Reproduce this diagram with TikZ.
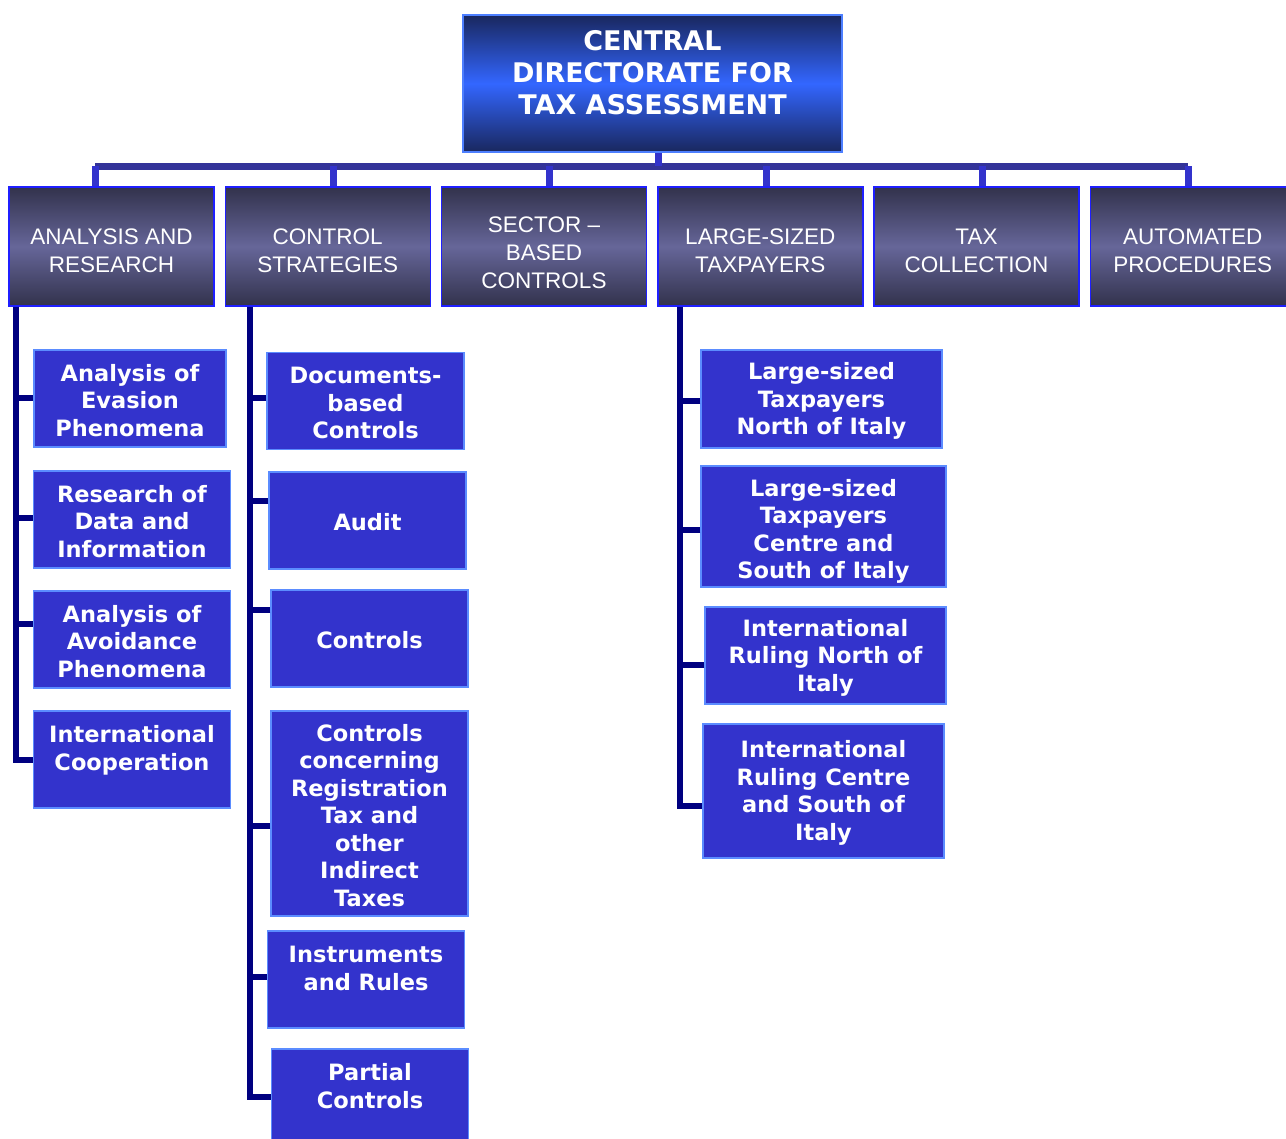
\documentclass[tikz,border=0pt]{standalone}
\usepackage{fontspec}
\setmainfont{DejaVu Sans}
\newfontfamily\deptfont{Liberation Sans}
\usetikzlibrary{calc}
\definecolor{cdta-dark}{HTML}{19275E}
\definecolor{cdta-light}{HTML}{3366FF}
\definecolor{cdta-rim}{HTML}{4D7FFF}
\definecolor{dept-dark}{HTML}{32324C}
\definecolor{dept-light}{HTML}{666699}
\definecolor{dept-rim}{HTML}{1F1FFF}
\definecolor{unit-fill}{HTML}{3333CC}
\definecolor{unit-rim}{HTML}{5B8CFF}
\definecolor{bar-blue}{HTML}{333399}
\definecolor{stub-blue}{HTML}{3333CC}
\definecolor{tree-navy}{HTML}{000080}
% pushes the first line of a box down a little
\newcommand{\lift}[1][21pt]{\rule{0pt}{#1}}

\begin{document}
\begin{tikzpicture}[x=1pt,y=-1pt,
  cdta/.style={draw=cdta-rim,line width=2pt,top color=cdta-dark,bottom color=cdta-dark,middle color=cdta-light,
    minimum width=379pt,minimum height=137pt,inner sep=0pt,text=white,align=center,
    font=\fontsize{27}{32}\selectfont\bfseries},
  dept/.style={draw=dept-rim,line width=1.5pt,top color=dept-dark,bottom color=dept-dark,middle color=dept-light,
    minimum width=205pt,minimum height=119pt,inner sep=0pt,text=white,align=center,
    font=\deptfont\fontsize{22.5}{28}\selectfont},
  unit/.style={draw=unit-rim,line width=1.5pt,fill=unit-fill,minimum width=197pt,minimum height=97pt,
    inner sep=0pt,text=white,align=center,font=\fontsize{22.5}{27.5}\selectfont\bfseries},
  barline/.style={draw=bar-blue,line width=7pt},
  stub/.style={draw=stub-blue,line width=7pt},
  tree/.style={draw=tree-navy,line width=6pt}]
\useasboundingbox (0,0) rectangle (1286,1139);
\clip (0,0) rectangle (1286,1139);

% top
\node[cdta] (cdta) at (652.5,83.5) {CENTRAL\\DIRECTORATE FOR\\TAX ASSESSMENT\\[-9pt]\mbox{}};

% departments
\node[dept] (hdAR) at (111.5,246.5) {\lift[24pt]ANALYSIS AND\\RESEARCH};
\node[dept] (hdCS) at (327.75,246.5) {\lift[24pt]CONTROL\\STRATEGIES};
\node[dept] (hdSB) at (544,246.5) {\lift[29pt]SECTOR –\\BASED\\CONTROLS};
\node[dept] (hdLT) at (760.25,246.5) {\lift[24pt]LARGE-SIZED\\TAXPAYERS};
\node[dept] (hdTC) at (976.5,246.5) {\lift[24pt]TAX\\COLLECTION};
\node[dept] (hdAP) at (1192.75,246.5) {\lift[24pt]AUTOMATED\\PROCEDURES};

% analysis and research
\node[unit,minimum width=192pt] (ar1) at (130,398.5) {\lift Analysis of\\Evasion\\Phenomena};
\node[unit] (ar2) at (132,519.5) {\lift Research of\\Data and\\Information};
\node[unit] (ar3) at (132,639.5) {\lift Analysis of\\Avoidance\\Phenomena};
\node[unit] (ar4) at (132,759.5) {\lift International\\Cooperation\\\mbox{}};

% control strategies
\node[unit] (cs1) at (365.5,401) {\lift Documents-\\based\\Controls};
\node[unit] (cs2) at (367.5,520.5) {\lift Audit};
\node[unit] (cs3) at (369.5,638.5) {\lift Controls};
\node[unit,minimum height=205pt] (cs4) at (369.5,813.5) {\lift Controls\\concerning\\Registration\\Tax and\\other\\Indirect\\Taxes};
\node[unit] (cs5) at (366,979.5) {\lift Instruments\\and Rules\\\mbox{}};
\node[unit] (cs6) at (370,1097.5) {\lift Partial\\Controls\\\mbox{}};

% large-sized taxpayers
\node[unit,minimum width=241pt,minimum height=98pt] (lt1) at (821.5,399) {\lift Large-sized\\Taxpayers\\North of Italy};
\node[unit,minimum width=245pt,minimum height=121pt] (lt2) at (823.5,526.5) {\lift[27pt]Large-sized\\Taxpayers\\Centre and\\South of Italy};
\node[unit,minimum width=241pt] (lt3) at (825.5,655.5) {\lift International\\Ruling North of\\Italy};
\node[unit,minimum width=241pt,minimum height=134pt] (lt4) at (823.5,791) {\lift International\\Ruling Centre\\and South of\\Italy};

% bar
\coordinate (barL) at (95,166.5);
\coordinate (barR) at (1188,166.5);
\draw[barline] (barL) -- (barR);
\draw[stub] ([xshift=6pt]cdta.south) -- ([xshift=6pt]cdta.south |- barL);
\foreach \h/\dx in {hdAR/-16.5,hdCS/5.25,hdSB/5,hdLT/5.75,hdTC/5.5,hdAP/-4.75}
  \draw[stub] ([xshift=\dx pt]\h.north) -- ([xshift=\dx pt]\h.north |- barL);

% trees
\coordinate (trunkA) at (15.5,0);
\coordinate (trunkB) at (250,0);
\coordinate (trunkC) at (680,0);
\draw[tree] (hdAR.south -| trunkA) |- ([yshift=-0.5pt]ar4.west);
\foreach \u/\dy in {ar1/0.5,ar2/1.5,ar3/15.5}
  \draw[tree] ([yshift=\dy pt]\u.west) -- ([yshift=\dy pt]\u.west -| trunkA);
\draw[tree] (hdCS.south -| trunkB) |- ([yshift=0.5pt]cs6.west);
\foreach \u/\dy in {cs1/3,cs2/19.5,cs3/28.5,cs4/-12.5,cs5/2.5}
  \draw[tree] ([yshift=\dy pt]\u.west) -- ([yshift=\dy pt]\u.west -| trunkB);
\draw[tree] (hdLT.south -| trunkC) |- ([yshift=-15pt]lt4.west);
\foreach \u/\dy in {lt1/-2,lt2/-3.5,lt3/-9.5}
  \draw[tree] ([yshift=\dy pt]\u.west) -- ([yshift=\dy pt]\u.west -| trunkC);
\end{tikzpicture}
\end{document}
